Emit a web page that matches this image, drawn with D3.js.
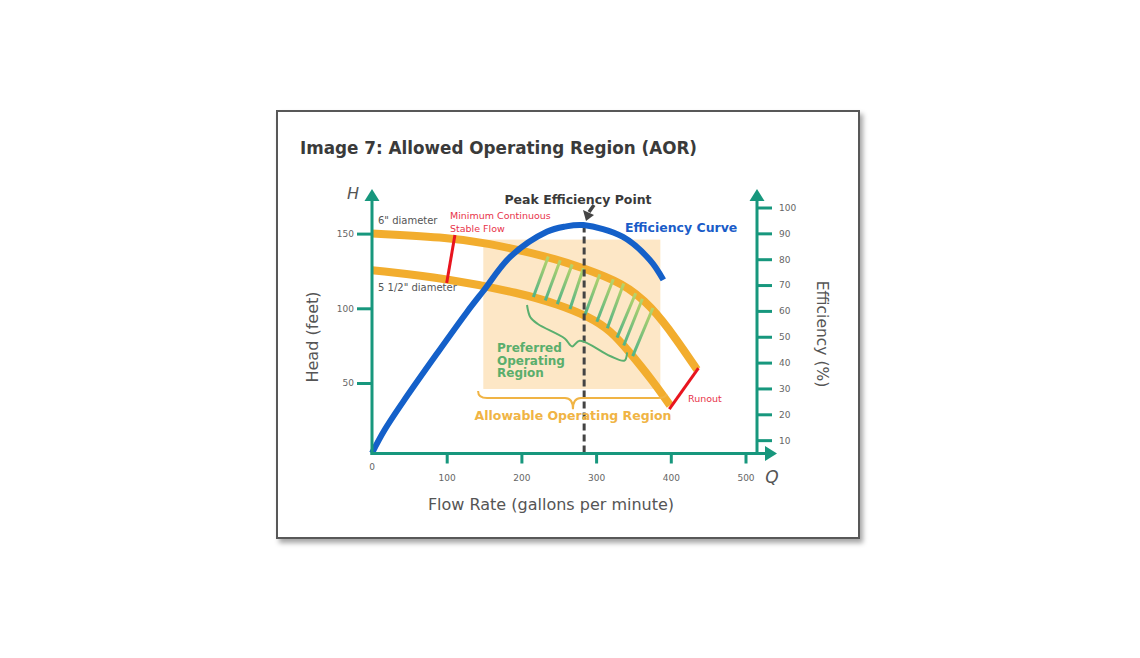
<!DOCTYPE html>
<html lang="en">
<head>
<meta charset="UTF-8">
<title>Image 7: Allowed Operating Region (AOR)</title>
<script src="https://cdn.jsdelivr.net/npm/d3@7"></script>
<style>
  body { margin: 0; background: #fff; }
  svg { display: block; font-family: "DejaVu Sans", Verdana, sans-serif; }
</style>
</head>
<body>
<svg id="chart" width="1140" height="658"></svg>
<script>
// ---------------- data ----------------
// 6" impeller head curve (gpm, feet)
const flow6 = [0, 108, 150, 238, 282, 336, 374, 408, 435];
const head6 = [150, 147, 144, 134.5, 127, 117, 101.5, 79, 59];
// 5 1/2" impeller head curve
const flow55 = [0, 100, 200, 250, 290, 320, 345, 375, 399];
const head55 = [125.5, 120, 110, 102.5, 94.5, 85, 70.5, 52, 35];
// efficiency curve (gpm, %)
const effFlow = [0, 17, 42, 87, 127, 149, 185, 234, 258, 283, 336, 372, 390];
const effPct = [5, 14, 25, 43.5, 59.5, 67.7, 80.9, 90.6, 92.6, 93.2, 88.6, 79.7, 72];
// peak efficiency flow
const bepFlow = 284;
// allowable operating region box (gpm / feet)
const aorFlow = [149, 386];
const aorHead = [46, 146];
// preferred region hatch lines: flow on 5 1/2" curve -> flow on 6" curve
const hatchFrom = [216, 232, 248, 265, 285, 301, 315, 328, 337, 349];
const hatchTo = [236, 252, 268, 283, 305, 323, 337, 353, 362, 376];
// minimum continuous stable flow and runout lines
const minFlowQ = [111, 100];
const minFlowH = [149, 117];
const runoutQ = [398, 437];
const runoutH = [32.5, 60];
// tick labels
const flowTicks = [100, 200, 300, 400, 500];
const headTicks = [50, 100, 150];
const effTicks = [10, 20, 30, 40, 50, 60, 70, 80, 90, 100];

// ---------------- setup ----------------
const svg = d3.select("#chart");
const teal = "#17977d";
const orange = "#f2ad2e";

const x = d3.scaleLinear().domain([0, 500]).range([372, 745.5]);
const yH = d3.scaleLinear().domain([0, 150]).range([457.7, 233.6]);
const yE = d3.scaleLinear().domain([0, 100]).range([466, 207.5]);

// head lookups used to attach hatch ends onto the curves
const head6At = d3.scaleLinear().domain(flow6).range(head6);
const head55At = d3.scaleLinear().domain(flow55).range(head55);

const defs = svg.append("defs");
const shadow = defs.append("filter").attr("id", "shadow")
  .attr("x", "-5%").attr("y", "-5%").attr("width", "110%").attr("height", "115%");
shadow.append("feDropShadow").attr("dx", 3).attr("dy", 4)
  .attr("stdDeviation", 2.5).attr("flood-color", "#000").attr("flood-opacity", 0.35);

const grad = defs.append("linearGradient").attr("id", "hatchGrad")
  .attr("x1", 0).attr("y1", 1).attr("x2", 0).attr("y2", 0);
grad.append("stop").attr("offset", "0%").attr("stop-color", "#4fb38a");
grad.append("stop").attr("offset", "100%").attr("stop-color", "#b9d468");

// card
svg.append("rect")
  .attr("x", 277).attr("y", 111).attr("width", 582).attr("height", 427)
  .attr("fill", "#fff").attr("stroke", "#595959").attr("stroke-width", 2)
  .attr("filter", "url(#shadow)");

svg.append("text")
  .attr("x", 300).attr("y", 154)
  .attr("font-size", 16.8).attr("font-weight", "bold").attr("fill", "#3a3a3a")
  .text("Image 7: Allowed Operating Region (AOR)");

// ---------------- AOR box ----------------
svg.append("rect")
  .attr("x", x(aorFlow[0])).attr("y", yH(aorHead[1]))
  .attr("width", x(aorFlow[1]) - x(aorFlow[0]))
  .attr("height", yH(aorHead[0]) - yH(aorHead[1]))
  .attr("fill", "#fde7c6");

// ---------------- head curves ----------------
const headLine = d3.line().x(d => x(d[0])).y(d => yH(d[1])).curve(d3.curveBasis);

[[flow6, head6], [flow55, head55]].forEach(([q, h]) => {
  svg.append("path")
    .attr("d", headLine(d3.zip(q, h)))
    .attr("fill", "none").attr("stroke", orange).attr("stroke-width", 8);
});

// hatch lines for preferred region
svg.append("g").selectAll("line")
  .data(d3.zip(hatchFrom, hatchTo))
  .join("line")
  .attr("x1", d => x(d[0])).attr("y1", d => yH(head55At(d[0])))
  .attr("x2", d => x(d[1])).attr("y2", d => yH(head6At(d[1])))
  .attr("stroke", "url(#hatchGrad)").attr("stroke-width", 3);

// min flow and runout
[[minFlowQ, minFlowH], [runoutQ, runoutH]].forEach(([q, h]) => {
  svg.append("line")
    .attr("x1", x(q[0])).attr("y1", yH(h[0]))
    .attr("x2", x(q[1])).attr("y2", yH(h[1]))
    .attr("stroke", "#e8141e").attr("stroke-width", 3);
});

// peak efficiency dashed line
svg.append("line")
  .attr("x1", x(bepFlow)).attr("x2", x(bepFlow))
  .attr("y1", yE(93)).attr("y2", yH(2.5))
  .attr("stroke", "#444").attr("stroke-width", 3).attr("stroke-dasharray", "7,4");

// efficiency curve
const effLine = d3.line().x(d => x(d[0])).y(d => yE(d[1])).curve(d3.curveCatmullRom);
svg.append("path")
  .attr("d", effLine(d3.zip(effFlow, effPct)))
  .attr("fill", "none").attr("stroke", "#1460c9").attr("stroke-width", 6);

// ---------------- axes ----------------
function styleAxis(g) {
  g.select(".domain").remove();
  g.selectAll(".tick line").attr("stroke", teal).attr("stroke-width", 3);
  g.selectAll(".tick text").attr("fill", "#666").attr("font-size", 9)
    .attr("font-family", "DejaVu Sans, Verdana, sans-serif");
}

svg.append("g").attr("transform", "translate(372,0)")
  .call(d3.axisLeft(yH).tickValues(headTicks).tickSize(15).tickPadding(3))
  .call(styleAxis);

svg.append("g").attr("transform", "translate(757,0)")
  .call(d3.axisRight(yE).tickValues(effTicks).tickSize(15).tickPadding(7))
  .call(styleAxis);

svg.append("g").attr("transform", "translate(0,453.5)")
  .call(d3.axisBottom(x).tickValues(flowTicks).tickSize(10).tickPadding(11))
  .call(styleAxis);

// axis lines with arrow heads
const axisG = svg.append("g").attr("fill", teal).attr("stroke", teal);
axisG.append("line").attr("x1", 372).attr("y1", 455).attr("x2", 372).attr("y2", 198).attr("stroke-width", 3);
axisG.append("line").attr("x1", 757).attr("y1", 455).attr("x2", 757).attr("y2", 198).attr("stroke-width", 3);
axisG.append("line").attr("x1", 370.5).attr("y1", 453.5).attr("x2", 767).attr("y2", 453.5).attr("stroke-width", 3);
axisG.append("path").attr("stroke", "none").attr("d", "M372,189L379.5,201L364.5,201Z");
axisG.append("path").attr("stroke", "none").attr("d", "M757,189L764.5,201L749.5,201Z");
axisG.append("path").attr("stroke", "none").attr("d", "M777,453.5L765,446L765,461Z");

svg.append("text").attr("x", x(0)).attr("y", 469.5).attr("text-anchor", "middle")
  .attr("font-size", 9).attr("fill", "#666").text("0");

svg.append("text").attr("x", 353).attr("y", 199).attr("text-anchor", "middle")
  .attr("font-size", 16).attr("font-style", "italic").attr("fill", "#555").text("H");
svg.append("text").attr("x", 772).attr("y", 483).attr("text-anchor", "middle")
  .attr("font-size", 17).attr("font-style", "italic").attr("fill", "#555").text("Q");

svg.append("text").attr("x", 551).attr("y", 510).attr("text-anchor", "middle")
  .attr("font-size", 16).attr("fill", "#555").text("Flow Rate (gallons per minute)");
svg.append("text").attr("transform", "translate(312,337) rotate(-90)")
  .attr("text-anchor", "middle").attr("dy", "0.35em")
  .attr("font-size", 16).attr("fill", "#555").text("Head (feet)");
svg.append("text").attr("transform", "translate(822,334) rotate(90)")
  .attr("text-anchor", "middle").attr("dy", "0.35em")
  .attr("font-size", 15.5).attr("fill", "#555").text("Efficiency (%)");

// ---------------- annotations ----------------
svg.append("text").attr("x", 578).attr("y", 204).attr("text-anchor", "middle")
  .attr("font-size", 12.5).attr("font-weight", "bold").attr("fill", "#3a3a3a")
  .text("Peak Efficiency Point");
// small arrow to the peak
svg.append("path")
  .attr("d", "M594,205L589,212")
  .attr("stroke", "#444").attr("stroke-width", 3.5).attr("fill", "none");
svg.append("path")
  .attr("d", "M583,210L594,215L586,221Z").attr("fill", "#444");

svg.append("text").attr("x", 625).attr("y", 232)
  .attr("font-size", 12.5).attr("font-weight", "bold").attr("fill", "#1a5cc8")
  .text("Efficiency Curve");

svg.append("text").attr("x", 378).attr("y", 224)
  .attr("font-size", 10).attr("fill", "#555").text("6\" diameter");
svg.append("text").attr("x", 378).attr("y", 291)
  .attr("font-size", 10).attr("fill", "#555").text("5 1/2\" diameter");

svg.append("text").attr("x", 450).attr("y", 219)
  .attr("font-size", 9.5).attr("fill", "#e8334a").text("Minimum Continuous");
svg.append("text").attr("x", 450).attr("y", 232)
  .attr("font-size", 9.5).attr("fill", "#e8334a").text("Stable Flow");
svg.append("text").attr("x", 688).attr("y", 402)
  .attr("font-size", 9.5).attr("fill", "#e8334a").text("Runout");

// preferred region brace (follows 5 1/2" curve)
const braceQ = [207.5, 212, 222, 258, 268, 278, 318.6, 338, 341.5];
const braceH = [102.2, 94, 89.5, 79.8, 74.5, 78.3, 68.1, 65, 70.5];
svg.append("path")
  .attr("d", d3.line().x(d => x(d[0])).y(d => yH(d[1])).curve(d3.curveCatmullRom)(d3.zip(braceQ, braceH)))
  .attr("fill", "none").attr("stroke", "#5aaf6e").attr("stroke-width", 2);

const prefG = svg.append("text").attr("font-size", 12).attr("font-weight", "bold").attr("fill", "#5aae6c");
["Preferred", "Operating", "Region"].forEach((t, i) => {
  prefG.append("tspan").attr("x", 497).attr("y", 352 + i * 12.6).text(t);
});

// allowable region brace
const bx1 = x(142), bx2 = x(394), bxm = x(269), by = yH(40), btip = yH(32.5);
svg.append("path")
  .attr("d", `M${bx1},${by - 7}Q${bx1},${by} ${bx1 + 9},${by}L${bxm - 8},${by}Q${bxm},${by} ${bxm},${btip}` +
             `Q${bxm},${by} ${bxm + 8},${by}L${bx2 - 9},${by}Q${bx2},${by} ${bx2},${by - 4}`)
  .attr("fill", "none").attr("stroke", "#f0b445").attr("stroke-width", 2);

svg.append("text").attr("x", 573).attr("y", 420).attr("text-anchor", "middle")
  .attr("font-size", 12.5).attr("font-weight", "bold").attr("fill", "#f0b445")
  .text("Allowable Operating Region");
</script>
</body>
</html>
